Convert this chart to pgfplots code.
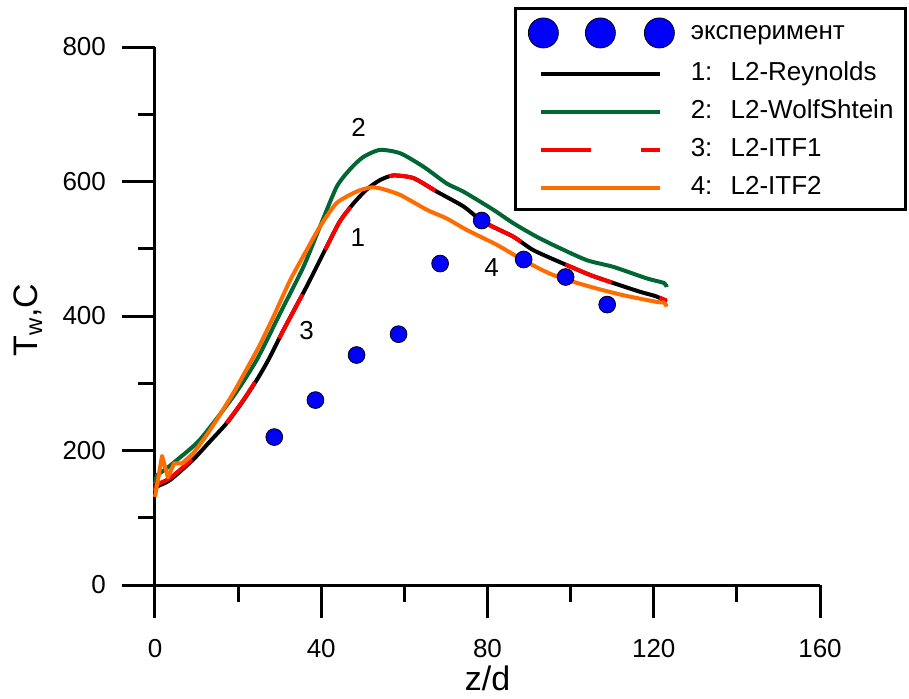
\documentclass[border=0pt]{standalone}
\usepackage{fontspec}
\setmainfont{Liberation Sans}
\usepackage{pgfplots}
\pgfplotsset{compat=1.18}
\definecolor{cgreen}{RGB}{0,102,51}
\definecolor{corange}{RGB}{255,108,0}
\definecolor{cred}{RGB}{255,0,0}
\definecolor{cblue}{RGB}{0,0,255}
\begin{document}
\begin{tikzpicture}
\begin{axis}[
  at={(0,0)}, anchor=south west,
  scale only axis, width=332.5pt, height=269pt,
  xmin=0, xmax=160, ymin=0, ymax=800,
  axis x line=bottom, axis y line=left,
  axis line style={line width=1.5pt, -},
  xtick={0,40,80,120,160}, minor xtick={20,60,100,140},
  ytick={0,200,400,600,800}, minor ytick={100,300,500,700},
  tick align=outside,
  major tick length=16.5pt, minor tick length=8.25pt,
  every tick/.style={black, line width=1.5pt},
  tick label style={font=\fontsize{13}{15}\selectfont},
  xticklabel style={yshift=-7pt},
  yticklabel style={xshift=-4.5pt},
  /pgf/number format/assume math mode=true,
  xlabel={z/d}, ylabel={T\textsubscript{w},C},
  label style={font=\fontsize{17}{20}\selectfont},
  xlabel style={at={(axis description cs:0.5,0)}, anchor=base, yshift=-52.5pt},
  ylabel style={at={(axis description cs:-0.1774,0.4926)}, anchor=base},
  clip=false,
  legend cell align=left,
  legend style={at={(1.1308,1.0743)}, anchor=north east, draw=black, line width=1.5pt,
    fill=white, font=\fontsize{13}{15}\selectfont, inner xsep=6pt, inner ysep=4.5pt,
    row sep=6.5pt, column sep=8pt,
    nodes={inner xsep=0pt, inner ysep=0pt, text height=9.5pt, text depth=3pt}},
  legend image code/.code={\draw[#1] (0pt,0pt) -- (59.5pt,0pt);},
]
\addplot[only marks, mark=*, mark size=4.2pt, mark options={fill=cblue, draw=black, line width=0.4pt},
  legend image code/.code={\foreach \xx in {1,29.5,59}{\draw[fill=cblue, draw=black, line width=0.4pt] (\xx pt,0pt) circle (7.5pt);}}]
coordinates {(28.7,220) (38.6,275) (48.5,342) (58.6,373) (68.6,478) (78.6,542) (88.7,484) (98.8,458) (108.8,417)};
\addlegendentry{эксперимент}

\addplot[black, line width=2pt, line join=round, smooth, tension=0.4] coordinates {
(0,138) (0.4,146) (3.6,156) (9.1,186) (13,212) (17.3,241) (21,272) (24.5,305) (27.3,335) (30.9,379)
(36.5,444) (41.3,503) (44.5,541) (47.7,567) (50.9,588) (54.1,602) (57.3,609) (62.2,605) (67.8,585)
(74.2,563) (79,540) (86.2,518) (91,498) (98.2,478) (104.7,461) (110.3,449) (116.7,436) (120.7,429) (123.1,421)};
\addlegendentry{1:\hspace{0.7em}L2-Reynolds}

\addplot[cgreen, line width=2pt, line join=round, smooth, tension=0.4] coordinates {
(0,150) (0.5,163) (2.5,172) (5.3,186) (10.8,216) (18.8,280) (24.5,335) (30.1,404) (35.7,473) (39.7,533)
(43.7,592) (46.9,618) (50,636) (54.1,647) (59,642) (64.6,622) (70.2,597) (74.2,585) (81.4,558) (86.2,538)
(91.8,518) (96.7,503) (103.9,483) (110.3,473) (118.3,456) (122.5,449) (123.1,443)};
\addlegendentry{2:\hspace{0.7em}L2-WolfShtein}

\addplot[cred, line width=2pt, dash pattern=on 25pt off 25pt, smooth, tension=0.4] coordinates {
(0,140) (0.4,149) (3.6,159) (9.1,188) (13,213) (17.3,242) (21,273) (24.5,306) (27.3,335) (30.9,379)
(36.5,444) (41.3,503) (44.5,541) (47.7,567) (50.9,588) (54.1,602) (57.3,609) (62.2,605) (67.8,585)
(74.2,563) (79,540) (86.2,518) (91,498) (98.2,478) (104.7,461) (110.3,449) (116.7,436) (120.7,429) (123.1,423)};
\addlegendentry{3:\hspace{0.7em}L2-ITF1}

\addplot[corange, line width=2pt, line join=round, forget plot] coordinates {
(0,131) (1.7,192) (3.1,160) (4.6,181) (6.6,181) (9.2,196)};
\addplot[corange, line width=2pt, line join=round, smooth, tension=0.4] coordinates {
(6.6,181) (9.2,196) (13.2,230) (18.8,285) (23.3,335) (25.3,358)
(28.5,399) (32.5,453) (36.5,498) (39.7,533) (43.7,568) (48.5,585) (51.7,591) (54.1,590) (59,580) (65.4,558)
(70.2,545) (75,528) (82.2,506) (88.6,483) (95,463) (100.6,451) (106.2,441) (112.6,431) (120.7,421) (122.5,420) (123.1,414)};
\addlegendentry{4:\hspace{0.7em}L2-ITF2}

\node[font=\fontsize{13}{15}\selectfont] at (axis cs:48.96,680) {2};
\node[font=\fontsize{13}{15}\selectfont] at (axis cs:48.8,516.7) {1};
\node[font=\fontsize{13}{15}\selectfont] at (axis cs:36.5,377.7) {3};
\node[font=\fontsize{13}{15}\selectfont] at (axis cs:81,472) {4};
\end{axis}
\pgfresetboundingbox
\path (-77.5pt,-56.5pt) rectangle (377pt,292.5pt);
\end{tikzpicture}
\end{document}
